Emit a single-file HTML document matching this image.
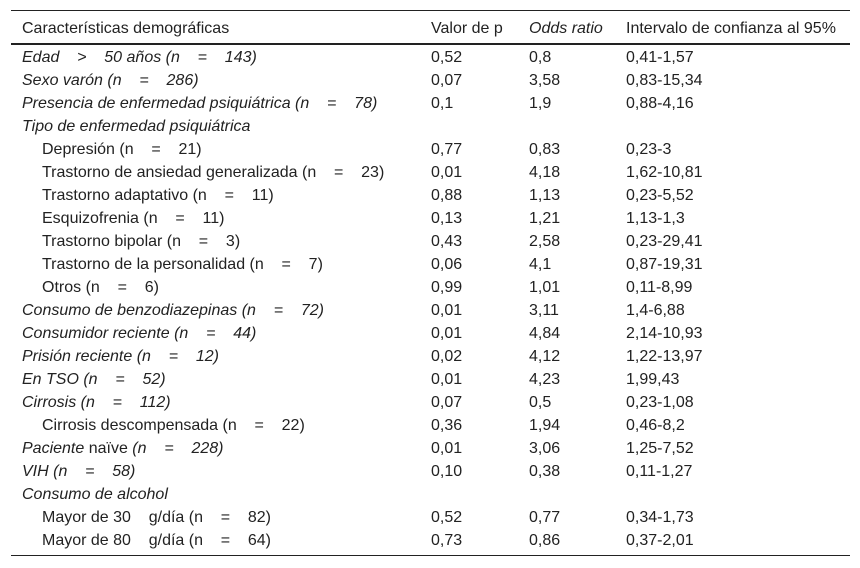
<!DOCTYPE html>
<html><head><meta charset="utf-8"><style>
body{margin:0;width:860px;height:568px;background:#fff;font-family:"Liberation Sans",sans-serif;font-size:16px;color:#222;position:relative;overflow:hidden}
.line{position:absolute;left:11px;width:839px;background:#222}
.r{position:absolute;left:0;width:860px;height:23px;line-height:23px;white-space:pre}
.r span{position:absolute;top:0}
.c1{left:22px}.c1.s{left:42px}.c2{left:431px}.c3{left:529px}.c4{left:626px}
i{font-style:italic}
</style></head><body>
<div class="line" style="top:10px;height:1px"></div>
<div class="line" style="top:43px;height:2px"></div>
<div class="line" style="top:555px;height:1px"></div>
<div class="r" style="top:17px"><span class="c1">Características demográficas</span><span class="c2">Valor de p</span><span class="c3"><i>Odds ratio</i></span><span class="c4">Intervalo de confianza al 95%</span></div>
<div id="body"></div>
<script>
const rows=[
["<i>Edad    &gt;    50 años (n    =    143)</i>",0,"0,52","0,8","0,41-1,57"],
["<i>Sexo varón (n    =    286)</i>",0,"0,07","3,58","0,83-15,34"],
["<i>Presencia de enfermedad psiquiátrica (n    =    78)</i>",0,"0,1","1,9","0,88-4,16"],
["<i>Tipo de enfermedad psiquiátrica</i>",0,"","",""],
["Depresión (n    =    21)",1,"0,77","0,83","0,23-3"],
["Trastorno de ansiedad generalizada (n    =    23)",1,"0,01","4,18","1,62-10,81"],
["Trastorno adaptativo (n    =    11)",1,"0,88","1,13","0,23-5,52"],
["Esquizofrenia (n    =    11)",1,"0,13","1,21","1,13-1,3"],
["Trastorno bipolar (n    =    3)",1,"0,43","2,58","0,23-29,41"],
["Trastorno de la personalidad (n    =    7)",1,"0,06","4,1","0,87-19,31"],
["Otros (n    =    6)",1,"0,99","1,01","0,11-8,99"],
["<i>Consumo de benzodiazepinas (n    =    72)</i>",0,"0,01","3,11","1,4-6,88"],
["<i>Consumidor reciente (n    =    44)</i>",0,"0,01","4,84","2,14-10,93"],
["<i>Prisión reciente (n    =    12)</i>",0,"0,02","4,12","1,22-13,97"],
["<i>En TSO (n    =    52)</i>",0,"0,01","4,23","1,99,43"],
["<i>Cirrosis (n    =    112)</i>",0,"0,07","0,5","0,23-1,08"],
["Cirrosis descompensada (n    =    22)",1,"0,36","1,94","0,46-8,2"],
["<i>Paciente </i>naïve<i> (n    =    228)</i>",0,"0,01","3,06","1,25-7,52"],
["<i>VIH (n    =    58)</i>",0,"0,10","0,38","0,11-1,27"],
["<i>Consumo de alcohol</i>",0,"","",""],
["Mayor de 30    g/día (n    =    82)",1,"0,52","0,77","0,34-1,73"],
["Mayor de 80    g/día (n    =    64)",1,"0,73","0,86","0,37-2,01"]];
const b=document.getElementById('body');
rows.forEach((r,k)=>{
const d=document.createElement('div');
d.className='r';


d.style.top=(46+23*k)+'px';
d.innerHTML='<span class="c1'+(r[1]?' s':'')+'">'+r[0]+'</span><span class="c2">'+r[2]+'</span><span class="c3">'+r[3]+'</span><span class="c4">'+r[4]+'</span>';
b.appendChild(d);
});
</script>
</body></html>
